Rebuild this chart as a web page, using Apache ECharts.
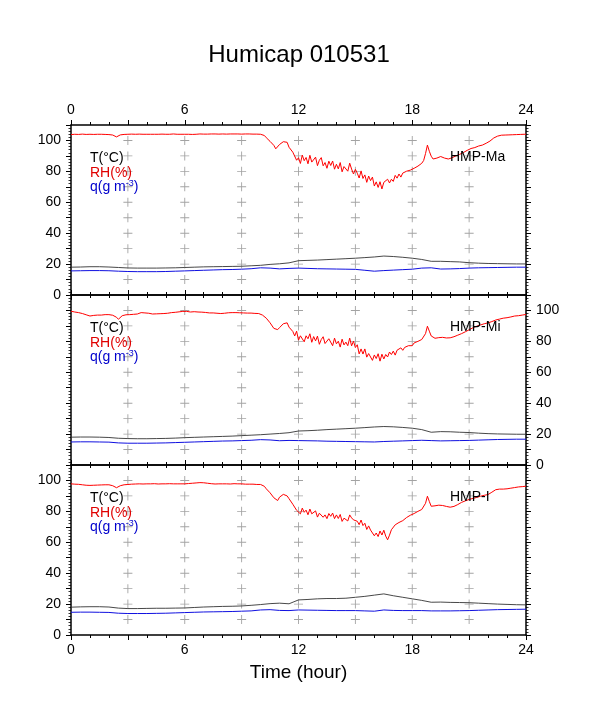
<!DOCTYPE html>
<html>
<head>
<meta charset="utf-8">
<script src="https://cdn.jsdelivr.net/npm/echarts@6/dist/echarts.min.js"></script>
<style>
html,body{margin:0;padding:0;background:#fff;}
#chart{width:598px;height:708px;}
</style>
</head>
<body>
<div id="chart"></div>
<script>
// ---------------- data ----------------
const titleText = 'Humicap 010531';
const panelNames = ['HMP-Ma', 'HMP-Mi', 'HMP-I'];
const xTickLabels = [0, 6, 12, 18, 24];
const yTickLabels = [0, 20, 40, 60, 80, 100];
const crossHours = [3, 6, 9, 12, 15, 18, 21];
const crossLevels = [10, 20, 30, 40, 50, 60, 70, 80, 90, 100];

// RH sample times: every 0.1 h; T and q sample times: every 0.5 h
const rhHours = Array.from({length: 241}, (_, i) => i / 10);
const tqHours = Array.from({length: 49}, (_, i) => i / 2);

const rhMa = [
 103.8,103.9,104.0,104.0,103.9,104.0,104.1,104.0,103.9,104.0,
 104.0,104.0,103.9,104.0,104.0,104.1,104.0,104.0,103.9,103.8,
 103.8,103.7,103.5,102.8,102.3,102.9,103.6,103.8,103.9,104.0,
 104.0,104.0,104.1,104.0,104.0,104.0,104.1,104.0,104.0,104.0,
 104.0,104.0,104.0,104.1,104.0,104.0,104.0,104.0,104.1,104.0,
 104.0,104.0,104.0,104.1,104.2,104.1,104.0,104.0,104.0,104.0,
 104.0,104.1,104.0,104.0,103.9,104.0,104.0,104.1,104.2,104.1,
 104.1,104.2,104.1,104.2,104.2,104.1,104.2,104.2,104.1,104.2,
 104.2,104.2,104.1,104.2,104.2,104.1,104.2,104.2,104.2,104.1,
 104.1,104.2,104.2,104.1,104.2,104.2,104.1,104.2,104.1,104.2,
 104.0,103.6,103.2,101.8,101.4,99.4,99.6,96.8,94.6,95.2,
 97.4,96.6,99.2,98.4,98.8,95.6,95.0,92.4,92.2,87.2,
 88.8,85.1,90.5,86.9,89.0,84.9,90.4,86.0,86.6,89.2,
 83.7,87.2,88.9,83.6,85.7,82.0,86.6,83.8,86.7,81.4,
 84.6,81.6,85.7,79.7,83.1,83.7,80.1,85.3,81.5,78.3,
 81.3,78.8,75.7,80.3,75.4,77.7,72.9,77.0,74.0,76.3,
 70.5,73.2,69.6,73.3,68.6,72.9,71.9,74.9,72.5,74.9,
 73.5,77.4,75.6,78.3,76.3,78.9,78.3,80.1,79.5,80.8,
 80.6,82.0,82.2,83.4,84.0,85.2,87.0,91.5,97.0,93.0,
 89.8,88.0,87.4,88.6,89.4,89.6,89.0,88.6,88.2,88.0,
 88.4,88.8,89.6,90.0,90.2,91.0,91.6,92.2,92.8,93.6,
 94.0,94.8,95.0,95.4,96.2,96.4,97.2,97.0,98.0,98.2,
 98.6,99.6,100.4,101.6,102.6,102.8,103.2,103.4,103.2,103.5,
 103.5,103.6,103.6,103.7,103.6,103.8,103.8,103.9,103.8,104.0,
 104.0
];
const rhMi = [
 99.5,99.3,99.0,98.8,98.6,98.5,98.0,97.6,97.2,96.8,
 96.4,96.6,96.8,96.7,97.0,97.1,97.0,97.2,97.3,97.2,
 97.3,97.1,96.9,96.5,95.6,94.3,95.2,96.6,97.0,97.2,
 97.4,97.3,97.6,97.5,97.8,97.7,98.0,98.6,98.2,98.4,
 98.5,98.2,98.0,97.7,97.9,97.8,97.6,97.9,97.7,98.0,
 98.0,98.2,98.4,98.6,98.5,98.8,99.0,99.1,99.3,99.4,
 99.5,99.4,99.3,99.0,99.2,99.2,99.1,99.0,98.9,98.9,
 98.9,98.7,98.6,98.4,98.5,98.4,98.3,98.2,98.1,98.0,
 98.0,98.2,98.4,98.5,98.6,98.6,98.7,98.6,98.5,98.5,
 98.5,98.4,98.5,98.3,98.3,98.3,98.2,98.1,98.2,98.0,
 98.0,97.0,96.9,95.0,95.2,92.0,92.6,88.4,87.4,87.6,
 88.9,89.6,91.4,91.2,92.0,89.2,89.6,86.4,83.5,86.6,
 80.8,83.6,84.7,79.7,83.6,81.7,84.9,79.4,83.1,80.3,
 83.4,78.1,81.2,83.0,78.6,77.5,81.7,80.6,77.2,82.1,
 78.4,80.1,76.3,81.4,77.7,79.5,77.2,82.1,77.1,80.1,
 76.0,77.8,71.9,75.1,71.8,75.1,69.8,72.1,72.8,67.7,
 71.2,68.9,72.0,67.2,71.7,68.6,71.5,69.9,73.1,71.5,
 73.7,71.1,74.3,73.3,75.8,74.2,76.1,75.6,77.2,76.7,
 77.2,79.0,78.6,80.0,80.0,81.2,82.0,85.0,89.8,86.6,
 83.5,82.4,82.0,82.2,82.4,82.6,82.6,82.4,82.2,82.2,
 82.3,82.6,83.0,83.4,84.0,84.4,85.0,85.6,86.2,87.0,
 87.5,88.0,88.8,89.0,89.8,90.0,90.6,91.0,91.4,92.0,
 92.0,92.6,92.8,93.2,93.8,94.0,94.4,94.6,95.0,95.2,
 95.3,95.6,95.8,96.0,96.4,96.6,96.6,96.8,97.0,97.2,
 97.4
];
const rhI = [
 97.8,97.8,97.6,97.6,97.5,97.4,97.2,97.0,96.9,96.8,
 96.8,96.8,96.9,96.9,97.0,97.0,97.1,97.2,97.2,97.2,
 97.2,97.0,96.6,95.8,95.3,95.9,96.6,97.0,97.2,97.3,
 97.4,97.5,97.6,97.6,97.7,97.7,97.8,97.8,97.7,97.8,
 97.8,97.9,97.8,97.8,97.9,97.8,97.7,97.8,97.8,97.9,
 97.8,97.8,97.9,97.8,97.8,97.9,97.8,97.8,97.8,97.8,
 97.8,97.9,98.0,98.1,98.2,98.3,98.4,98.5,98.6,98.5,
 98.5,98.4,98.2,98.0,97.9,97.8,97.7,97.8,97.8,97.7,
 97.8,97.7,97.8,97.8,97.7,97.8,97.9,97.8,97.8,97.8,
 97.8,97.7,97.6,97.6,97.6,97.5,97.6,97.5,97.4,97.4,
 97.4,96.6,96.2,94.6,94.4,92.0,91.8,88.8,88.6,87.0,
 89.2,88.8,91.0,90.4,90.0,88.2,87.4,84.6,85.0,80.7,
 81.0,78.4,82.1,79.4,80.8,77.8,81.5,78.4,78.6,80.3,
 76.3,78.8,79.9,76.2,77.7,75.3,78.6,76.8,78.9,75.3,
 77.7,75.4,78.0,73.5,75.6,76.0,73.8,77.7,75.8,74.5,
 75.5,73.6,71.4,74.4,70.8,72.3,68.3,70.6,67.9,68.9,
 64.2,66.0,63.7,67.3,64.7,67.8,64.0,61.6,64.6,68.1,
 68.0,71.3,70.4,72.8,71.8,74.0,74.1,76.0,76.0,77.5,
 77.6,78.6,79.0,80.0,80.4,81.2,82.4,85.2,89.8,86.4,
 83.3,83.0,83.6,83.8,84.0,84.0,83.8,83.6,83.2,83.0,
 82.7,82.8,83.2,83.8,84.4,85.5,85.8,86.2,86.8,87.2,
 87.7,88.0,88.4,88.6,89.0,89.4,89.8,90.0,90.4,90.6,
 90.9,91.6,92.4,93.4,94.0,94.2,94.4,94.2,94.4,94.6,
 94.6,94.8,95.0,95.2,95.4,95.6,95.8,96.0,96.0,96.2,
 96.3
];

const tMa = [18.0,18.1,18.3,18.3,18.1,17.8,17.5,17.4,17.4,17.4,17.5,17.6,17.8,18.0,18.2,18.3,18.4,18.5,18.6,18.9,
 19.2,19.8,20.2,20.8,22.2,22.4,22.6,22.9,23.2,23.5,23.8,24.2,24.6,25.2,24.9,24.4,23.8,23.0,21.8,21.8,
 21.6,21.4,20.9,20.6,20.4,20.3,20.2,20.1,20.1];
const qMa = [15.6,15.7,15.8,15.8,15.7,15.4,15.2,15.1,15.1,15.1,15.2,15.4,15.6,15.8,16.0,16.2,16.4,16.5,16.7,17.0,
 17.6,17.4,16.9,17.2,17.4,17.2,17.0,16.9,16.8,16.7,16.6,16.0,15.4,15.8,16.1,16.4,16.7,17.4,17.6,16.8,
 16.9,17.1,17.4,17.6,17.7,17.8,17.9,18.0,18.0];
const tMi = [18.0,18.1,18.1,18.0,17.8,17.3,17.1,17.0,17.0,17.1,17.2,17.4,17.7,17.9,18.1,18.3,18.5,18.7,19.0,19.3,
 19.6,20.0,20.4,20.9,22.0,22.2,22.5,22.9,23.2,23.5,23.8,24.2,24.6,24.9,24.7,24.3,23.8,22.9,21.2,21.6,
 21.5,21.2,21.0,20.6,20.3,20.1,20.0,19.9,19.9];
const qMi = [14.9,15.0,15.0,14.9,14.8,14.3,14.1,14.1,14.1,14.2,14.3,14.5,14.7,14.9,15.1,15.3,15.5,15.6,15.8,16.0,
 16.4,16.2,15.7,15.9,15.8,15.7,15.6,15.4,15.3,15.2,15.1,15.0,14.9,15.2,15.4,15.6,15.8,16.0,15.8,15.6,
 15.7,15.8,15.9,16.1,16.3,16.5,16.6,16.7,16.7];
const tI = [18.0,18.2,18.3,18.3,18.1,17.4,17.1,17.1,17.2,17.3,17.3,17.4,17.5,17.8,18.1,18.3,18.5,18.6,18.8,19.2,
 19.7,20.3,20.6,20.2,22.7,23.0,23.4,23.6,23.6,23.8,24.4,25.0,25.8,26.6,25.4,24.4,23.4,22.4,21.2,21.3,
 21.1,21.0,20.9,20.6,20.3,20.0,19.8,19.6,19.5];
const qI = [14.7,14.8,14.8,14.7,14.6,14.1,13.9,13.9,13.9,14.0,14.1,14.3,14.5,14.7,14.9,15.0,15.1,15.2,15.4,15.6,
 16.2,16.4,15.9,15.8,16.2,16.1,16.0,15.9,15.8,15.8,15.8,15.6,15.4,16.2,15.9,15.8,15.8,15.8,15.6,15.6,
 15.6,15.7,15.8,16.0,16.2,16.4,16.5,16.6,16.7];

const rhSeries = [rhMa, rhMi, rhI];
const tSeries = [tMa, tMi, tI];
const qSeries = [qMa, qMi, qI];

// ---------------- chart ----------------
const zip = (xs, ys) => ys.map((v, i) => [xs[i], v]);
const crossPoints = [];
crossHours.forEach(h => crossLevels.forEach(l => crossPoints.push([h, l])));

const gridTops = [125, 295, 465];
const FONT = 'Liberation Sans, Arial, Helvetica, sans-serif';
const axisLine = {show: true, onZero: false, lineStyle: {color: '#000', width: 1.5}};

const grids = gridTops.map(t => ({left: 71, width: 455, top: t, height: 170, show: false}));

function xAx(gi, pos, showLabels, name) {
  const a = {
    type: 'value', gridIndex: gi, position: pos, min: 0, max: 24, interval: 3,
    axisLine: axisLine,
    axisTick: {show: true, inside: false, length: 5, lineStyle: {color: '#000', width: 1}},
    minorTick: {show: true, splitNumber: 3, length: 3, lineStyle: {color: '#000', width: 1}},
    splitLine: {show: false}, minorSplitLine: {show: false},
    axisLabel: {show: showLabels, margin: 8, color: '#000', fontSize: 14, fontFamily: FONT,
      formatter: v => (xTickLabels.indexOf(v) >= 0 ? String(v) : '')}
  };
  if (name) {
    a.name = name; a.nameLocation = 'middle'; a.nameGap = 28;
    a.nameTextStyle = {fontSize: 19, color: '#000', fontFamily: FONT};
  }
  return a;
}
function yAx(gi, pos, showLabels) {
  return {
    type: 'value', gridIndex: gi, position: pos, min: 0, max: 110, interval: 10,
    axisLine: axisLine,
    axisTick: {show: true, inside: false, length: 5, lineStyle: {color: '#000', width: 1}},
    minorTick: {show: true, splitNumber: 5, length: 2.5, lineStyle: {color: '#000', width: 0.8}},
    splitLine: {show: false}, minorSplitLine: {show: false},
    axisLabel: {show: showLabels, margin: 10, color: '#000', fontSize: 14, fontFamily: FONT,
      formatter: v => (yTickLabels.indexOf(v) >= 0 ? String(v) : '')}
  };
}

const xAxes = [], yAxes = [], series = [], graphics = [];
gridTops.forEach((top, i) => {
  xAxes.push(xAx(i, 'bottom', i === 2, i === 2 ? 'Time (hour)' : null));
  xAxes.push(xAx(i, 'top', i === 0, null));
  yAxes.push(yAx(i, 'left', i !== 1));
  yAxes.push(yAx(i, 'right', i === 1));
  const xi = 2 * i, yi = 2 * i;
  series.push({
    type: 'scatter', xAxisIndex: xi, yAxisIndex: yi, data: crossPoints,
    symbol: 'path://M4.5,0H5.5V4.5H10V5.5H5.5V10H4.5V5.5H0V4.5H4.5Z', symbolSize: 9,
    itemStyle: {color: '#8c8c8c'}, silent: true, z: 1
  });
  series.push({type: 'line', xAxisIndex: xi, yAxisIndex: yi, data: zip(tqHours, tSeries[i]),
    showSymbol: false, lineStyle: {color: '#333', width: 0.9}, z: 2});
  series.push({type: 'line', xAxisIndex: xi, yAxisIndex: yi, data: zip(tqHours, qSeries[i]),
    showSymbol: false, lineStyle: {color: '#1010e0', width: 1}, z: 3});
  series.push({type: 'line', xAxisIndex: xi, yAxisIndex: yi, data: zip(rhHours, rhSeries[i]),
    showSymbol: false, lineStyle: {color: '#ff0000', width: 1}, z: 4});
  const ts = {fontSize: 14, fontFamily: FONT};
  graphics.push({type: 'text', left: 90, top: top + 26, z: 10,
    style: Object.assign({text: 'T(°C)', fill: '#000'}, ts)});
  graphics.push({type: 'text', left: 90, top: top + 41, z: 10,
    style: Object.assign({text: 'RH(%)', fill: '#e00000'}, ts)});
  graphics.push({type: 'text', left: 90, top: top + 54, z: 10,
    style: Object.assign({text: 'q(g m{s|-3})', fill: '#0000cc',
      rich: {s: {fontSize: 9, fontFamily: FONT, fill: '#0000cc', padding: [0, 0, 7, 0]}}}, ts)});
  graphics.push({type: 'text', left: 450, top: top + 25, z: 10,
    style: Object.assign({text: panelNames[i], fill: '#000'}, ts)});
});

const chart = echarts.init(document.getElementById('chart'), null, {renderer: 'canvas'});
chart.setOption({
  animation: false,
  backgroundColor: '#fff',
  title: {text: titleText, left: 'center', top: 38,
    textStyle: {fontSize: 24, fontWeight: 'normal', color: '#000', fontFamily: FONT}},
  grid: grids,
  xAxis: xAxes,
  yAxis: yAxes,
  series: series,
  graphic: graphics
});
</script>
</body>
</html>
